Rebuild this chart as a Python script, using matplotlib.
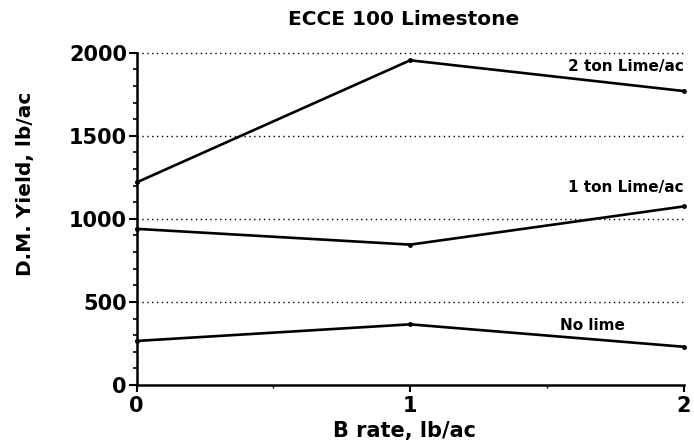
#! /usr/bin/env python3

import matplotlib
matplotlib.use("Agg")
import matplotlib.pyplot as plt
from matplotlib.ticker import MultipleLocator

# B rate (lb/ac) and dry matter yield (lb/ac)
b_rate = [0, 1, 2]
no_lime = [265, 365, 230]
one_ton = [940, 845, 1075]
two_ton = [1220, 1955, 1770]

series_labels = ['No lime', '1 ton Lime/ac', '2 ton Lime/ac']
y_ticks = [0, 500, 1000, 1500, 2000]
x_ticks = [0, 1, 2]

plt.rcParams['font.family'] = ['DejaVu Sans']
plt.rcParams['font.weight'] = 'bold'

fig = plt.figure(figsize=(6.94, 4.44), dpi=100)
ax = fig.add_axes([0.197, 0.133, 0.788, 0.748])

for ys in (no_lime, one_ton, two_ton):
    ax.plot(b_rate, ys, color='black', linewidth=1.9, marker='o', markersize=2.5,
            clip_on=False, zorder=3)

# dotted reference lines
for yv in y_ticks[1:]:
    ax.axhline(yv, color='black', linestyle=(0, (1, 2.5)), linewidth=1.0,
               clip_on=False, zorder=1)

ax.set_xlim(0, 2)
ax.set_ylim(0, 2000)
ax.set_xticks(x_ticks)
ax.set_yticks(y_ticks)
ax.yaxis.set_minor_locator(MultipleLocator(100))
ax.xaxis.set_minor_locator(MultipleLocator(0.5))

for s in ('top', 'right'):
    ax.spines[s].set_visible(False)
for s in ('left', 'bottom'):
    ax.spines[s].set_linewidth(1.8)

ax.tick_params(axis='y', which='major', direction='out', length=6, width=1.5,
               labelsize=15, pad=1)
ax.tick_params(axis='y', which='minor', direction='out', length=3, width=1.2)
ax.tick_params(axis='x', which='major', direction='out', length=5, width=1.5,
               labelsize=15, pad=3)
ax.tick_params(axis='x', which='minor', direction='out', length=2, width=1.0)

fig.text(0.581, 0.957, 'ECCE 100 Limestone', ha='center', va='center',
         fontsize=14.5, fontweight='bold')
ax.set_xlabel('B rate, lb/ac', fontsize=15, fontweight='bold')
ax.xaxis.set_label_coords(0.49, -0.11)
ax.set_ylabel('D.M. Yield, lb/ac', fontsize=14.5, fontweight='bold', va='center')
ax.yaxis.set_label_coords(-0.203, 0.605)

# series labels next to the right-hand ends
ax.text(2.0, 1915, series_labels[2], ha='right', va='center',
        fontsize=11, fontweight='bold')
ax.text(2.0, 1190, series_labels[1], ha='right', va='center',
        fontsize=11, fontweight='bold')
ax.text(1.667, 355, series_labels[0], ha='center', va='center',
        fontsize=11, fontweight='bold')

fig.savefig('out.png', dpi=100)
